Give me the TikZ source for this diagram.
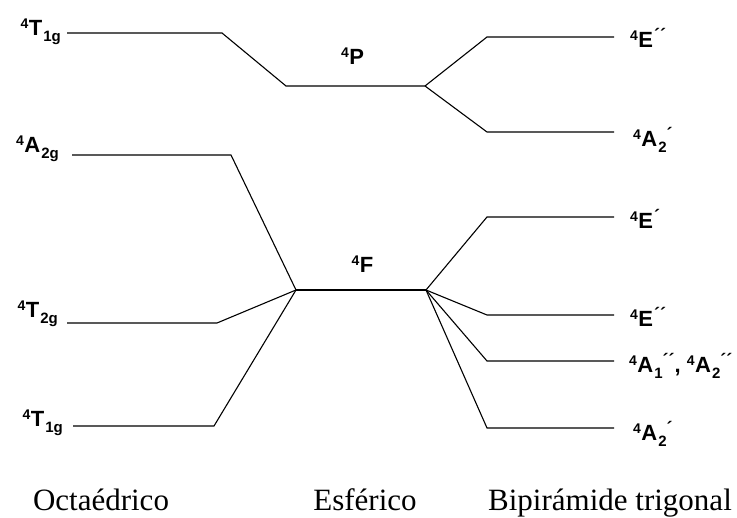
\documentclass[tikz,border=0pt]{standalone}
\usepackage{fontspec}
\setmainfont{Liberation Serif}
\newfontfamily\labfont{Liberation Sans}
\newcommand{\Lb}[4]{{\labfont\bfseries\fontsize{22}{22}\selectfont\raisebox{7.5pt}{\fontsize{14}{14}\selectfont #1}\kern0.5pt#2\kern1pt\raisebox{-6pt}{\fontsize{15}{15}\selectfont #3}\raisebox{6pt}{\fontsize{18}{18}\selectfont #4}}}
\begin{document}
\begin{tikzpicture}[x=1pt,y=-1pt,
  lvl/.style={line width=1.1pt,black},
  llab/.style={anchor=base east,inner sep=0pt},
  rlab/.style={anchor=base west,inner sep=0pt},
  clab/.style={anchor=base,inner sep=0pt},
  bottom/.style={anchor=base,inner sep=0pt,font=\fontsize{31}{31}\selectfont}]
\useasboundingbox (0,0) rectangle (737,518);
% octahedral
\coordinate (oT1a) at (67,33);   \coordinate (oT1b) at (222,33);
\coordinate (oA2a) at (72,155);  \coordinate (oA2b) at (231,155);
\coordinate (oT2a) at (67,323);  \coordinate (oT2b) at (217,323);
\coordinate (oT3a) at (73,426);  \coordinate (oT3b) at (214,426);
% spherical
\coordinate (sPa) at (286,86);   \coordinate (sPb) at (425,86);
\coordinate (sFa) at (296,290);  \coordinate (sFb) at (426,290);
% trigonal bipyramid
\coordinate (tE2a) at (487,37);  \coordinate (tE2b) at (614,37);
\coordinate (tA2a) at (487,132); \coordinate (tA2b) at (614,132);
\coordinate (tE1a) at (487,217); \coordinate (tE1b) at (614,217);
\coordinate (tE3a) at (487,315); \coordinate (tE3b) at (614,315);
\coordinate (tA1a) at (487,361); \coordinate (tA1b) at (614,361);
\coordinate (tA4a) at (487,428); \coordinate (tA4b) at (614,428);

\draw[lvl] (oT1a) -- (oT1b) -- (sPa) -- (sPb);
\draw[lvl] (sPb) -- (tE2a) -- (tE2b);
\draw[lvl] (sPb) -- (tA2a) -- (tA2b);
\draw[lvl] (oA2a) -- (oA2b) -- (sFa);
\draw[lvl] (oT2a) -- (oT2b) -- (sFa);
\draw[lvl] (oT3a) -- (oT3b) -- (sFa);
\draw[lvl] (sFa) -- (sFb);
\draw[lvl] (sFb) -- (tE1a) -- (tE1b);
\draw[lvl] (sFb) -- (tE3a) -- (tE3b);
\draw[lvl] (sFb) -- (tA1a) -- (tA1b);
\draw[lvl] (sFb) -- (tA4a) -- (tA4b);

% labels
\node[llab] (lT1) at (61,36) {\Lb{4}{T}{1g}{}};
\node[llab] (lA2g) at (59,153) {\Lb{4}{A}{2g}{}};
\node[llab] (lT2) at (58,318) {\Lb{4}{T}{2g}{}};
\node[llab] (lT1b) at (63,427) {\Lb{4}{T}{1g}{}};
\node[clab] (lP) at (353,65) {\Lb{4}{P}{}{}};
\node[clab] (lF) at (363,273) {\Lb{4}{F}{}{}};
\node[rlab] (rE2) at (630,48) {\Lb{4}{E}{}{´´}};
\node[rlab] (rA2) at (633,147) {\Lb{4}{A}{2}{´}};
\node[rlab] (rE1) at (630,229) {\Lb{4}{E}{}{´}};
\node[rlab] (rE3) at (630,327) {\Lb{4}{E}{}{´´}};
\node[rlab] (rA1) at (629,373) {\Lb{4}{A}{1}{´´}{\labfont\bfseries\fontsize{22}{22}\selectfont, }\Lb{4}{A}{2}{´´}};
\node[rlab] (rA4) at (633,441) {\Lb{4}{A}{2}{´}};
% bottom
\node[bottom] (bO) at (101,511) {Octaédrico};
\node[bottom] (bE) at (365,511) {Esférico};
\node[bottom] (bB) at (610,511) {Bipirámide trigonal};
\end{tikzpicture}
\end{document}
